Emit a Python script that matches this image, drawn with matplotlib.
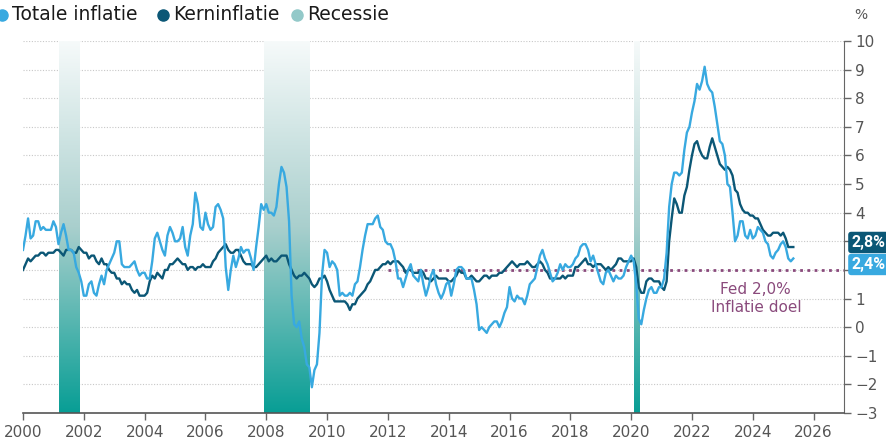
import numpy as np
import matplotlib
matplotlib.use('Agg')
import matplotlib.pyplot as plt
from matplotlib.colors import LinearSegmentedColormap
from matplotlib.lines import Line2D
import matplotlib.transforms as mtransforms

# monthly y/y, jan 2000 .. may 2025
totaal = [
    2.7, 3.2, 3.8, 3.1, 3.2, 3.7, 3.7, 3.4, 3.5, 3.4, 3.4, 3.4,
    3.7, 3.5, 2.9, 3.3, 3.6, 3.2, 2.7, 2.7, 2.6, 2.1, 1.9, 1.6,
    1.1, 1.1, 1.5, 1.6, 1.2, 1.1, 1.5, 1.8, 1.5, 2.0, 2.2, 2.4,
    2.6, 3.0, 3.0, 2.2, 2.1, 2.1, 2.1, 2.2, 2.3, 2.0, 1.8, 1.9,
    1.9, 1.7, 1.7, 2.3, 3.1, 3.3, 3.0, 2.7, 2.5, 3.2, 3.5, 3.3,
    3.0, 3.0, 3.1, 3.5, 2.8, 2.5, 3.2, 3.6, 4.7, 4.3, 3.5, 3.4,
    4.0, 3.6, 3.4, 3.5, 4.2, 4.3, 4.1, 3.8, 2.1, 1.3, 2.0, 2.5,
    2.1, 2.4, 2.8, 2.6, 2.7, 2.7, 2.4, 2.0, 2.8, 3.5, 4.3, 4.1,
    4.3, 4.0, 4.0, 3.9, 4.2, 5.0, 5.6, 5.4, 4.9, 3.7, 1.1, 0.1,
    0.0, 0.2, -0.4, -0.7, -1.3, -1.4, -2.1, -1.5, -1.3, -0.2, 1.8, 2.7,
    2.6, 2.1, 2.3, 2.2, 2.0, 1.1, 1.2, 1.1, 1.1, 1.2, 1.1, 1.5,
    1.6, 2.1, 2.7, 3.2, 3.6, 3.6, 3.6, 3.8, 3.9, 3.5, 3.4, 3.0,
    2.9, 2.9, 2.7, 2.3, 1.7, 1.7, 1.4, 1.7, 2.0, 2.2, 1.8, 1.7,
    1.6, 2.0, 1.5, 1.1, 1.4, 1.8, 2.0, 1.5, 1.2, 1.0, 1.2, 1.5,
    1.6, 1.1, 1.5, 2.0, 2.1, 2.1, 2.0, 1.7, 1.7, 1.7, 1.3, 0.8,
    -0.1, 0.0, -0.1, -0.2, 0.0, 0.1, 0.2, 0.2, 0.0, 0.2, 0.5, 0.7,
    1.4, 1.0, 0.9, 1.1, 1.0, 1.0, 0.8, 1.1, 1.5, 1.6, 1.7, 2.1,
    2.5, 2.7, 2.4, 2.2, 1.9, 1.6, 1.7, 1.9, 2.2, 2.0, 2.2, 2.1,
    2.1, 2.2, 2.4, 2.5, 2.8, 2.9, 2.9, 2.7, 2.3, 2.5, 2.2, 1.9,
    1.6, 1.5, 1.9, 2.0, 1.8, 1.6, 1.8, 1.7, 1.7, 1.8, 2.1, 2.3,
    2.5, 2.3, 1.5, 0.3, 0.1, 0.6, 1.0, 1.3, 1.4, 1.2, 1.2, 1.4,
    1.4, 1.7, 2.6, 4.2, 5.0, 5.4, 5.4, 5.3, 5.4, 6.2, 6.8, 7.0,
    7.5, 7.9, 8.5, 8.3, 8.6, 9.1, 8.5, 8.3, 8.2, 7.7, 7.1, 6.5,
    6.4, 6.0, 5.0, 4.9, 4.0, 3.0, 3.2, 3.7, 3.7, 3.2, 3.1, 3.4,
    3.1, 3.2, 3.5, 3.4, 3.3, 3.0, 2.9, 2.5, 2.4, 2.6, 2.7, 2.9,
    3.0, 2.8, 2.4, 2.3, 2.4,
]
kern = [
    2.0, 2.2, 2.4, 2.3, 2.4, 2.5, 2.5, 2.6, 2.6, 2.5, 2.6, 2.6,
    2.6, 2.7, 2.7, 2.6, 2.5, 2.7, 2.7, 2.7, 2.6, 2.6, 2.8, 2.7,
    2.6, 2.6, 2.4, 2.5, 2.5, 2.3, 2.2, 2.4, 2.2, 2.2, 2.0, 1.9,
    1.9, 1.7, 1.7, 1.5, 1.6, 1.5, 1.5, 1.3, 1.2, 1.3, 1.1, 1.1,
    1.1, 1.2, 1.6, 1.8, 1.7, 1.9, 1.8, 1.7, 2.0, 2.0, 2.2, 2.2,
    2.3, 2.4, 2.3, 2.2, 2.2, 2.0, 2.1, 2.1, 2.0, 2.1, 2.1, 2.2,
    2.1, 2.1, 2.1, 2.3, 2.4, 2.6, 2.7, 2.8, 2.9, 2.7, 2.6, 2.6,
    2.7, 2.7, 2.5, 2.3, 2.2, 2.2, 2.2, 2.1, 2.1, 2.2, 2.3, 2.4,
    2.5, 2.3, 2.4, 2.3, 2.3, 2.4, 2.5, 2.5, 2.5, 2.2, 2.0, 1.8,
    1.7, 1.8, 1.8, 1.9, 1.8, 1.7, 1.5, 1.4, 1.5, 1.7, 1.7, 1.8,
    1.6, 1.3, 1.1, 0.9, 0.9, 0.9, 0.9, 0.9, 0.8, 0.6, 0.8, 0.8,
    1.0, 1.1, 1.2, 1.3, 1.5, 1.6, 1.8, 2.0, 2.0, 2.1, 2.2, 2.2,
    2.3, 2.2, 2.3, 2.3, 2.3, 2.2, 2.1, 1.9, 2.0, 2.0, 1.9, 1.9,
    1.9, 2.0, 1.9, 1.7, 1.7, 1.6, 1.7, 1.8, 1.7, 1.7, 1.7, 1.7,
    1.6, 1.6, 1.7, 1.8, 2.0, 1.9, 1.9, 1.7, 1.7, 1.8, 1.7, 1.6,
    1.6, 1.7, 1.8, 1.8, 1.7, 1.8, 1.8, 1.8, 1.9, 1.9, 2.0, 2.1,
    2.2, 2.3, 2.2, 2.1, 2.2, 2.2, 2.2, 2.3, 2.2, 2.1, 2.1, 2.2,
    2.3, 2.2, 2.0, 1.9, 1.7, 1.7, 1.7, 1.7, 1.7, 1.8, 1.7, 1.8,
    1.8, 1.8, 2.1, 2.1, 2.2, 2.3, 2.4, 2.2, 2.2, 2.1, 2.2, 2.2,
    2.2, 2.1, 2.0, 2.1, 2.0, 2.1, 2.2, 2.4, 2.4, 2.3, 2.3, 2.3,
    2.3, 2.4, 2.1, 1.4, 1.2, 1.2, 1.6, 1.7, 1.7, 1.6, 1.6, 1.6,
    1.4, 1.3, 1.6, 3.0, 3.8, 4.5, 4.3, 4.0, 4.0, 4.6, 4.9, 5.5,
    6.0, 6.4, 6.5, 6.2, 6.0, 5.9, 5.9, 6.3, 6.6, 6.3, 6.0, 5.7,
    5.6, 5.5, 5.6, 5.5, 5.3, 4.8, 4.7, 4.3, 4.1, 4.0, 4.0, 3.9,
    3.9, 3.8, 3.8, 3.6, 3.4, 3.3, 3.2, 3.2, 3.3, 3.3, 3.3, 3.2,
    3.3, 3.1, 2.8, 2.8, 2.8,
]
# recessies (begin, eind) in jaren
recessies = [(2001.17, 2001.83), (2007.92, 2009.42), (2020.08, 2020.25)]
fed_doel = 2.0
jaren = np.arange(2000, 2027, 2)
y_ticks = np.arange(-3, 11, 1)
# tick labels that sit under the end labels are not shown
verborgen = [2, 3]

c_totaal = '#38a9e0'
c_kern = '#0b5776'
c_recessie = '#93c9c9'
c_fed = '#8a4a7c'
c_tekst = '#555555'

plt.rcParams['font.family'] = 'DejaVu Sans'

fig = plt.figure(figsize=(8.86, 4.41), dpi=100)
ax = fig.add_axes([23/886, 1-413/441, (844-23)/886, (413-41)/441])

x = 2000 + np.arange(len(totaal)) / 12.0

# grid
for v in range(-2, 11):
    ax.axhline(v, color='#c8c8c8', lw=0.8, ls=(0, (1, 1.5)), zorder=1)

# recession bars with a vertical gradient (on top of the grid)
cmap = LinearSegmentedColormap.from_list('rec', ['#f6fafa', '#a9cfcd', '#089e95'])
grad = np.linspace(0, 1, 256).reshape(-1, 1)
for (a, b) in recessies:
    ax.imshow(grad, extent=(a, b, -3, 10), origin='upper', aspect='auto',
              cmap=cmap, zorder=1.5, interpolation='bilinear')

# fed target
ax.plot([2012, 2027], [fed_doel, fed_doel], color=c_fed, lw=2, ls=(0, (1, 1.6)), zorder=2)
ax.text(2024.1, 1.0, 'Fed 2,0%\nInflatie doel', color=c_fed, fontsize=11,
        ha='center', va='center', linespacing=1.25)

ax.plot(x, kern, color=c_kern, lw=1.7, zorder=3)
ax.plot(x, totaal, color=c_totaal, lw=1.7, zorder=4)

ax.set_xlim(2000, 2027)
ax.set_ylim(-3, 10)

ax.spines['top'].set_visible(False)
ax.spines['left'].set_visible(False)
ax.spines['right'].set_color('#666666')
ax.spines['bottom'].set_color('#555555')
ax.spines['bottom'].set_linewidth(1.2)

ax.yaxis.tick_right()
ax.set_yticks(y_ticks)
ax.set_yticklabels(['' if v in verborgen else str(v).replace('-', '\u2212') for v in y_ticks])
ax.set_xticks(jaren)
ax.set_xticklabels([str(j) for j in jaren])
ax.tick_params(axis='both', colors='#666666', labelcolor=c_tekst, labelsize=11,
               length=5, width=1)
ax.tick_params(axis='y', pad=3)

ax.text(1.012, 1.07, '%', transform=ax.transAxes, fontsize=10, color=c_tekst,
        ha='left', va='center')

# end labels
trans = mtransforms.blended_transform_factory(ax.transAxes, ax.transData)
for (val, y_pos, col) in [(kern[-1], 2.96, c_kern), (totaal[-1], 2.19, c_totaal)]:
    ax.text(1.009, y_pos, f'{val:.1f}%'.replace('.', ','), transform=trans,
            color='white', fontsize=11.5, family='Roboto', fontweight='bold',
            ha='left', va='center', clip_on=False,
            bbox=dict(boxstyle='round,pad=0.2,rounding_size=0.2', fc=col, ec='none'))

# legend
items = [(2/886, 'Totale inflatie', c_totaal),
         (163/886, 'Kerninflatie', c_kern),
         (297/886, 'Recessie', c_recessie)]
for (px, label, col) in items:
    fig.add_artist(Line2D([px], [1-15/441], marker='o', ms=8, color=col, ls='none',
                          transform=fig.transFigure))
    fig.text(px + 10/886, 1-15/441, label, fontsize=13.5, color='#1a1a1a',
             ha='left', va='center')

fig.savefig('out.png', dpi=100)
